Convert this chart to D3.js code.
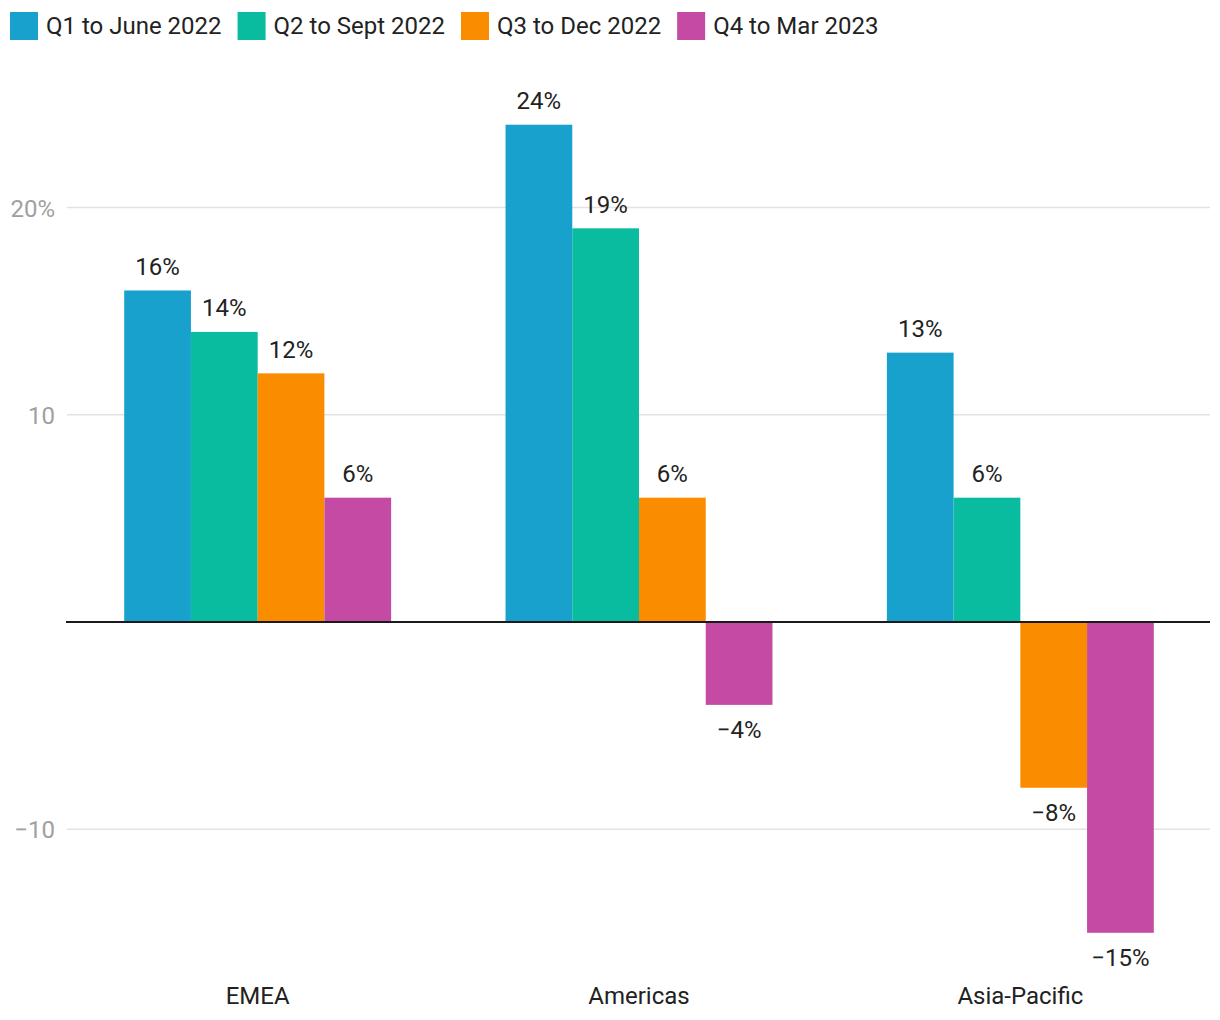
<!DOCTYPE html>
<html><head><meta charset="utf-8">
<script src="https://cdn.jsdelivr.net/npm/d3@7"></script>
<style>body{margin:0;background:#fff;font-family:Roboto,"Noto Sans",sans-serif;}</style>
</head><body>
<svg id="chart" width="1220" height="1020"></svg>
<script>
const regions = ["EMEA", "Americas", "Asia-Pacific"];
const seriesNames = ["Q1 to June 2022", "Q2 to Sept 2022", "Q3 to Dec 2022", "Q4 to Mar 2023"];
const seriesColors = ["#18a1cd", "#09bb9f", "#fa8c00", "#c44aa3"];
const q1 = [16, 24, 13];
const q2 = [14, 19, 6];
const q3 = [12, 6, -8];
const q4 = [6, -4, -15];
const yTicks = [-10, 10, 20];
const yTickLabels = ["\u221210", "10", "20%"];

const seriesValues = [q1, q2, q3, q4];
const svg = d3.select("#chart");
const FS = 24;

const x0 = d3.scaleBand().domain(regions).range([67, 1211]).paddingInner(0.3).paddingOuter(0.15);
const x1 = d3.scaleBand().domain(d3.range(seriesNames.length)).range([0, x0.bandwidth()]);
const y = d3.scaleLinear().domain([-15, 24]).range([622 + 15 * 20.72, 622 - 24 * 20.72]);

// grid
const yAxis = d3.axisLeft(y).tickValues(yTicks).tickSize(0).tickFormat((d, i) => yTickLabels[i]);
svg.append("g").selectAll("line").data(yTicks).join("line")
  .attr("x1", 67).attr("x2", 1210)
  .attr("y1", d => y(d)).attr("y2", d => y(d))
  .attr("stroke", "#e2e2e2").attr("stroke-width", 1.5);
const ga = svg.append("g").attr("transform", "translate(55,0)").call(yAxis);
ga.select(".domain").remove();
ga.selectAll("text").attr("x", 0).attr("dy", "0.35em")
  .attr("fill", "#a0a0a0").attr("font-size", FS).attr("font-family", "Roboto");

// bars
const data = [];
regions.forEach((r, ri) => seriesValues.forEach((s, si) => data.push({r, si, v: s[ri]})));
svg.append("g").selectAll("rect").data(data).join("rect")
  .attr("x", d => x0(d.r) + x1(d.si))
  .attr("width", x1.bandwidth())
  .attr("y", d => y(Math.max(0, d.v)))
  .attr("height", d => Math.abs(y(d.v) - y(0)))
  .attr("fill", d => seriesColors[d.si]);

// zero line
svg.append("line").attr("x1", 66).attr("x2", 1210).attr("y1", y(0)).attr("y2", y(0))
  .attr("stroke", "#1a1a1a").attr("stroke-width", 2);

// value labels
svg.append("g").selectAll("text").data(data).join("text")
  .attr("x", d => x0(d.r) + x1(d.si) + x1.bandwidth() / 2)
  .attr("y", d => d.v >= 0 ? y(d.v) - 24 : y(d.v) + 25)
  .attr("dy", "0.35em")
  .attr("text-anchor", "middle")
  .attr("font-size", FS).attr("font-family", "Roboto").attr("fill", "#222")
  .text(d => (d.v < 0 ? "\u2212" + Math.abs(d.v) : d.v) + "%");

// category labels
const xAxis = d3.axisBottom(x0).tickSize(0);
const gx = svg.append("g").attr("transform", "translate(0,996)").call(xAxis);
gx.select(".domain").remove();
gx.selectAll("text").attr("y", 0).attr("dy", "0.35em")
  .attr("fill", "#222").attr("font-size", FS).attr("font-family", "Roboto");

// legend
const lg = svg.append("g");
let lx = 10;
seriesNames.forEach((n, i) => {
  lg.append("rect").attr("x", lx).attr("y", 12).attr("width", 28).attr("height", 28).attr("fill", seriesColors[i]);
  const t = lg.append("text").attr("x", lx + 36).attr("y", 26).attr("dy", "0.35em")
    .attr("font-size", FS).attr("font-family", "Roboto").attr("fill", "#222").text(n);
  lx += 36 + t.node().getComputedTextLength() + 16;
});
</script>
</body></html>
